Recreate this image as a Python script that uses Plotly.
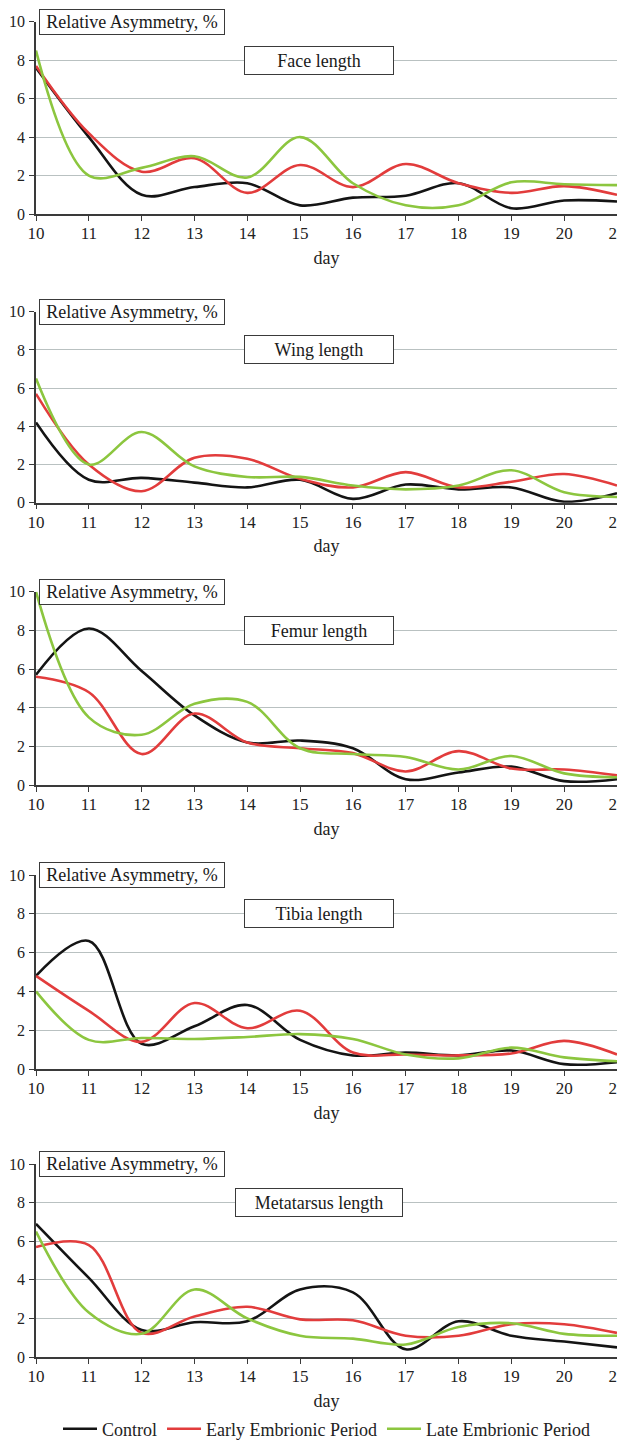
import plotly.graph_objects as go

days = list(range(10, 22))
day_ticks = [str(d) for d in days]
y_ticks = [0, 2, 4, 6, 8, 10]

panel_titles = ["Face length", "Wing length", "Femur length", "Tibia length", "Metatarsus length"]
series_names = ["Control", "Early Embrionic Period", "Late Embrionic Period"]

face_control = [7.6, 4.0, 1.0, 1.4, 1.6, 0.45, 0.85, 0.95, 1.6, 0.3, 0.7, 0.65]
face_early = [7.7, 4.2, 2.2, 2.9, 1.1, 2.55, 1.4, 2.6, 1.6, 1.1, 1.45, 1.0]
face_late = [8.5, 2.0, 2.4, 3.0, 1.9, 4.0, 1.6, 0.45, 0.45, 1.65, 1.55, 1.5]

wing_control = [4.2, 1.2, 1.3, 1.05, 0.8, 1.2, 0.2, 0.95, 0.7, 0.8, 0.05, 0.5]
wing_early = [5.7, 2.0, 0.6, 2.35, 2.3, 1.25, 0.8, 1.6, 0.8, 1.1, 1.5, 0.9]
wing_late = [6.5, 2.0, 3.7, 1.9, 1.35, 1.35, 0.9, 0.7, 0.9, 1.7, 0.55, 0.3]

femur_control = [5.7, 8.1, 5.9, 3.6, 2.2, 2.3, 1.9, 0.3, 0.65, 0.95, 0.2, 0.3]
femur_early = [5.6, 4.8, 1.6, 3.7, 2.2, 1.9, 1.65, 0.7, 1.75, 0.85, 0.8, 0.5]
femur_late = [10.0, 3.5, 2.6, 4.2, 4.3, 1.9, 1.6, 1.45, 0.8, 1.5, 0.6, 0.4]

tibia_control = [4.8, 6.6, 1.3, 2.2, 3.3, 1.5, 0.7, 0.85, 0.7, 0.95, 0.25, 0.35]
tibia_early = [4.8, 3.0, 1.4, 3.4, 2.1, 3.0, 0.85, 0.75, 0.7, 0.8, 1.45, 0.75]
tibia_late = [4.0, 1.5, 1.6, 1.55, 1.65, 1.8, 1.55, 0.75, 0.55, 1.1, 0.6, 0.4]

meta_control = [6.9, 4.1, 1.4, 1.8, 1.85, 3.5, 3.35, 0.4, 1.85, 1.1, 0.8, 0.5]
meta_early = [5.7, 5.8, 1.25, 2.1, 2.6, 1.95, 1.9, 1.1, 1.1, 1.7, 1.7, 1.25]
meta_late = [6.5, 2.3, 1.2, 3.5, 2.0, 1.1, 0.95, 0.65, 1.55, 1.75, 1.2, 1.1]

panels = [
    (face_control, face_early, face_late),
    (wing_control, wing_early, wing_late),
    (femur_control, femur_early, femur_late),
    (tibia_control, tibia_early, tibia_late),
    (meta_control, meta_early, meta_late),
]

colors = ["#141414", "#e23c3c", "#8cc63f"]
FONT = "Liberation Serif"

# page body has an 8px margin, so the figure is drawn from (8, 8)
OFF = 8
W, H = 617, 1433
left_px, right_px = 36 - OFF, 617 - OFF
top_px, bot_px = 21 - OFF, 1357 - OFF
ph = bot_px - top_px
panel_px = [(21.7, 214), (311.7, 502.7), (591.7, 785), (875, 1069), (1164, 1357)]
domains = [((bot_px - (b - OFF)) / ph, min(1.0, (bot_px - (t - OFF)) / ph)) for t, b in panel_px]
legend_y = (bot_px - (1429 - OFF)) / ph

title_box_w = [144, 144, 144, 144, 162]

fig = go.Figure()
annotations = []
for i, (vals, dom) in enumerate(zip(panels, domains)):
    ax = "" if i == 0 else str(i + 1)
    for j, (v, name) in enumerate(zip(vals, series_names)):
        fig.add_trace(go.Scatter(
            x=days, y=v, mode="lines", name=name,
            line=dict(color=colors[j], width=2.6, shape="spline", smoothing=1.0),
            xaxis="x" + ax, yaxis="y" + ax,
            showlegend=(i == 0), legendgroup=name,
        ))
    fig.layout["xaxis" + ax] = dict(
        domain=[0, 1], anchor="y" + ax, range=[10, 21],
        tickmode="array", tickvals=days, ticktext=day_ticks,
        showgrid=False, zeroline=False, automargin=False,
        showline=True, linecolor="#3a3a3a", linewidth=1.5,
        ticks="outside", ticklen=5, tickcolor="#3a3a3a", tickwidth=1.3,
        ticklabelstandoff=-2, ticklabeloverflow="allow",
        tickfont=dict(family=FONT, size=17, color="#222"),
        title=dict(text="day", font=dict(family=FONT, size=18, color="#222"), standoff=9),
    )
    fig.layout["yaxis" + ax] = dict(
        domain=list(dom), anchor="x" + ax, range=[0, 10],
        tickmode="array", tickvals=y_ticks,
        showgrid=True, gridcolor="#b9c1c1", gridwidth=1.2,
        zeroline=False, automargin=False,
        showline=True, linecolor="#3a3a3a", linewidth=1.5,
        ticks="outside", ticklen=5, tickcolor="#3a3a3a", tickwidth=1.3,
        ticklabelstandoff=1, ticklabeloverflow="allow",
        tickfont=dict(family=FONT, size=16, color="#222"),
    )
    annotations.append(dict(
        xref="x" + ax, yref="y" + ax, x=10.0, y=10, xanchor="left", yanchor="middle",
        xshift=3,
        text="Relative Asymmetry, %", showarrow=False,
        font=dict(family=FONT, size=18, color="#1a1a1a"),
        bgcolor="white", bordercolor="#3a3a3a", borderwidth=1, borderpad=2,
        width=180, height=20,
    ))
    annotations.append(dict(
        xref="x" + ax, yref="y" + ax, x=15.35, y=8, xanchor="center", yanchor="middle",
        text=panel_titles[i], showarrow=False,
        font=dict(family=FONT, size=18, color="#1a1a1a"),
        bgcolor="white", bordercolor="#3a3a3a", borderwidth=1, borderpad=2,
        width=title_box_w[i], height=23,
    ))

fig.update_layout(
    width=W, height=H,
    margin=dict(l=left_px, r=W - right_px, t=top_px, b=H - bot_px, autoexpand=False),
    paper_bgcolor="white", plot_bgcolor="white",
    annotations=annotations,
    legend=dict(
        orientation="h", x=0.5, xanchor="center", y=legend_y, yanchor="middle",
        font=dict(family=FONT, size=18, color="#222"),
        itemwidth=34, tracegroupgap=0,
    ),
    font=dict(family=FONT),
)

fig.write_html("out.html")
